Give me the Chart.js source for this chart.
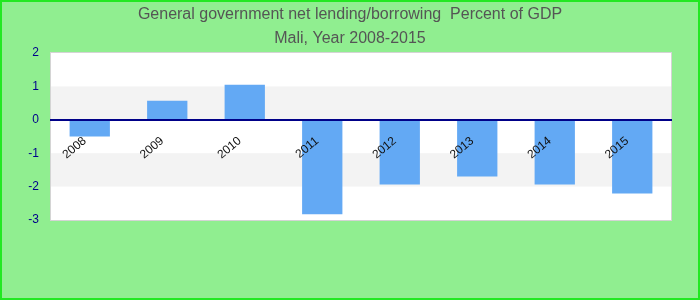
<!DOCTYPE html>
<html>
<head>
<meta charset="utf-8">
<script src="https://cdn.jsdelivr.net/npm/chart.js@4.4.1/dist/chart.umd.min.js"></script>
<style>
  body { margin: 0; background: #90ee90; }
  #wrap { width: 700px; height: 300px; }
</style>
</head>
<body>
<div id="wrap"><canvas id="myChart" width="700" height="300"></canvas></div>
<script>
const years = ['2008', '2009', '2010', '2011', '2012', '2013', '2014', '2015'];
const lending = [-0.50, 0.57, 1.05, -2.83, -1.94, -1.70, -1.94, -2.21];
const yTicks = [-3, -2, -1, 0, 1, 2];
const bands = [[0, 1], [-2, -1]];

Chart.defaults.font.family = 'Arial, "Liberation Sans", sans-serif';

// plot background, grey bands, frame and outer border
const backdrop = {
  id: 'backdrop',
  beforeDraw(chart) {
    const ctx = chart.ctx;
    const a = chart.chartArea;
    const y = chart.scales.y;
    ctx.save();
    ctx.fillStyle = '#90ee90';
    ctx.fillRect(0, 0, chart.width, chart.height);
    ctx.fillStyle = '#ffffff';
    ctx.fillRect(a.left, a.top, a.right - a.left, a.bottom - a.top);
    ctx.fillStyle = '#f3f3f3';
    bands.forEach(b => {
      const top = y.getPixelForValue(b[1]);
      const bot = y.getPixelForValue(b[0]);
      ctx.fillRect(a.left, top, a.right - a.left, bot - top);
    });
    ctx.strokeStyle = '#d4d4d4';
    ctx.lineWidth = 1;
    ctx.strokeRect(a.left - 0.5, a.top - 0.5, a.right - a.left + 1, a.bottom - a.top + 1);
    ctx.strokeStyle = '#22e822';
    ctx.lineWidth = 2;
    ctx.strokeRect(1, 1, chart.width - 2, chart.height - 2);
    ctx.restore();
  }
};

const data = {
  labels: years,
  datasets: [{
    label: 'Percent of GDP',
    data: lending,
    backgroundColor: '#63a9f4',
    borderWidth: 0,
    barPercentage: 0.52,
    categoryPercentage: 1.0
  }]
};

const config = {
  type: 'bar',
  data: data,
  plugins: [backdrop],
  options: {
    responsive: false,
    animation: false,
    layout: {
      padding: { left: 0, right: 0, top: 0, bottom: 80 }
    },
    plugins: {
      legend: { display: false },
      tooltip: { enabled: false },
      title: {
        display: true,
        text: ['General government net lending/borrowing  Percent of GDP', 'Mali, Year 2008-2015'],
        color: '#555555',
        font: { size: 16, weight: 'normal', lineHeight: 1.5 },
        padding: { top: 3, bottom: 2 }
      }
    },
    scales: {
      x: {
        position: { y: 0 },
        grid: { display: false },
        border: { color: '#000088', width: 2, z: 1 },
        ticks: {
          z: 2,
          color: '#111111',
          font: { size: 12 },
          maxRotation: 40,
          minRotation: 40,
          padding: 6,
          labelOffset: -5
        }
      },
      y: {
        min: -3,
        max: 2,
        afterFit(scale) { scale.width = 51; },
        afterBuildTicks(scale) { scale.ticks = yTicks.map(v => ({ value: v })); },
        grid: { display: false, drawTicks: false },
        border: { display: false },
        ticks: {
          color: '#00008b',
          font: { size: 12 },
          padding: 12,
          stepSize: 1
        }
      },
      // empty right-hand margin so the title stays centred on the canvas
      gap: {
        axis: 'y',
        position: 'right',
        afterFit(scale) { scale.width = 29; },
        grid: { display: false, drawTicks: false },
        border: { display: false },
        ticks: { display: false }
      }
    }
  }
};

const myChart = new Chart(document.getElementById('myChart'), config);
</script>
</body>
</html>
